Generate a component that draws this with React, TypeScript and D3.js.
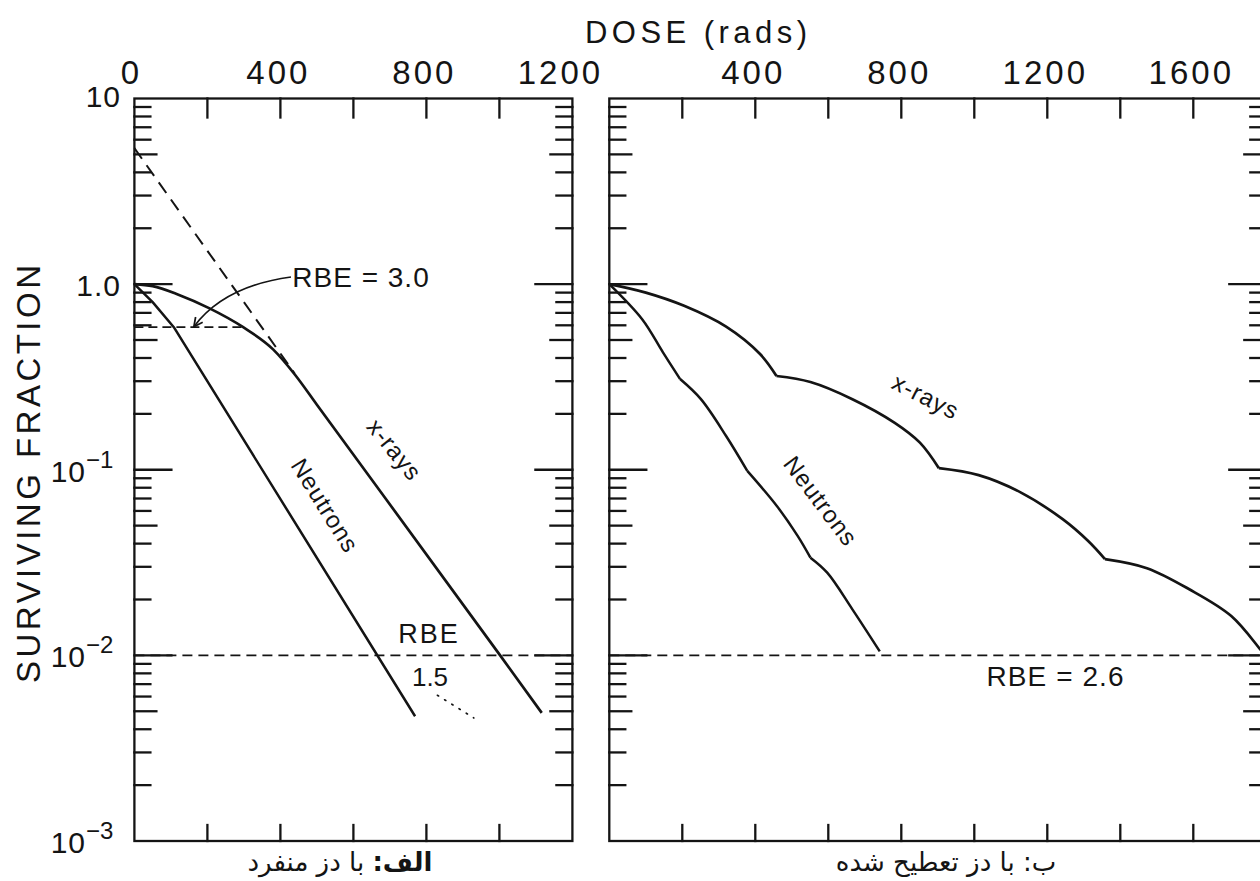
import React from "react";
import * as d3 from "d3";

type P = [number, number];

// ---------- data ----------
const leftDoseTicks = [0, 200, 400, 600, 800, 1000, 1200];
const leftDoseLabels = [0, 400, 800, 1200];
const rightDoseTicks = [0, 200, 400, 600, 800, 1000, 1200, 1400, 1600, 1800];
const rightDoseLabels = [400, 800, 1200, 1600];
const yDecadeLabels = [
  { v: 10, base: "10", sup: "" },
  { v: 1, base: "1.0", sup: "" },
  { v: 0.1, base: "10", sup: "-1" },
  { v: 0.01, base: "10", sup: "-2" },
  { v: 0.001, base: "10", sup: "-3" },
];

// Panel A: single dose
const xrayLeft: P[] = [
  [0, 1], [50, 0.975], [119, 0.88], [206, 0.74], [298, 0.586], [380, 0.445],
  [440, 0.325], [500, 0.224], [1002, 0.01], [1116, 0.0049],
];
const neutronLeft: P[] = [[0, 1], [50, 0.8], [108, 0.586], [769, 0.0047]];
const extrapolationLeft: P[] = [[0, 5.4], [439, 0.33]];
const rbe3Level: P[] = [[0, 0.586], [298, 0.586]];
const rbe15Dots: P[] = [[830, 0.0061], [930, 0.0046]];
const rbe3Leader: P[] = [[429, 1.093], [317, 1.02], [221, 0.84], [163, 0.59]];

// Panel B: fractionated dose
const xrayFractions: P[][] = [
  [[0, 1], [100, 0.9], [205, 0.764], [320, 0.59], [413, 0.42], [458, 0.32]],
  [[458, 0.32], [551, 0.297], [666, 0.24], [782, 0.179], [851, 0.14], [903, 0.102]],
  [[903, 0.102], [1012, 0.0935], [1128, 0.0753], [1243, 0.054], [1312, 0.0413], [1358, 0.033]],
  [[1358, 0.033], [1473, 0.0295], [1589, 0.0227], [1704, 0.0163], [1783, 0.0108], [1800, 0.0098]],
];
const neutronFractions: P[][] = [
  [[0, 1], [90, 0.647], [147, 0.429], [194, 0.308]],
  [[194, 0.308], [251, 0.24], [320, 0.152], [378, 0.0986]],
  [[378, 0.0986], [459, 0.0638], [516, 0.044], [551, 0.0336]],
  [[551, 0.0336], [597, 0.0279], [666, 0.0177], [741, 0.0105]],
];
const rbeLevel = 0.01;

// ---------- scales ----------
const W = 1260;
const H = 881;
const y = d3.scaleLog().domain([0.001, 10]).range([841, 98.5]);
const xL = d3.scaleLinear().domain([0, 1200]).range([134.4, 572.4]);
const xR = d3.scaleLinear().domain([0, 1800]).range([609.3, 1266.3]);

const INK = "#141414";
const FONT = "'Liberation Sans', Arial, sans-serif";

function Frame({ x, ticks }: { x: d3.ScaleLinear<number, number>; ticks: number[] }) {
  const [x0, x1] = x.range();
  const [y1, y0] = y.range();
  const yt = y.ticks();
  const tickLen = (v: number) => {
    const l = Math.log10(v);
    const m = Math.round(v / Math.pow(10, Math.floor(l + 1e-9)));
    if (Math.abs(l - Math.round(l)) < 1e-6) return 37;
    if (m === 5) return 22;
    return 16;
  };
  return (
    <g stroke={INK} strokeWidth={2.3} fill="none" strokeLinecap="square">
      <rect x={x0} y={y0} width={x1 - x0} height={y1 - y0} />
      {yt
        .filter((v) => v > 0.0011 && v < 9.9)
        .map((v, i) => (
          <g key={i}>
            <line x1={x0} x2={x0 + tickLen(v)} y1={y(v)} y2={y(v)} />
            <line x1={x1} x2={x1 - tickLen(v)} y1={y(v)} y2={y(v)} />
          </g>
        ))}
      {ticks
        .filter((t, i) => i > 0 && i < ticks.length - 1)
        .map((t) => (
          <g key={t}>
            <line x1={x(t)} x2={x(t)} y1={y0} y2={y0 + 19} />
            <line x1={x(t)} x2={x(t)} y1={y1} y2={y1 - 16} />
          </g>
        ))}
    </g>
  );
}

export default function App() {
  const monoL = d3
    .line<P>()
    .x((d) => xL(d[0]))
    .y((d) => y(d[1]))
    .curve(d3.curveMonotoneX);
  const smoothR = d3
    .line<P>()
    .x((d) => xR(d[0]))
    .y((d) => y(d[1]))
    .curve(d3.curveCatmullRom.alpha(0.5));
  const straightL = d3
    .line<P>()
    .x((d) => xL(d[0]))
    .y((d) => y(d[1]));
  const leaderL = (pts: P[]) => {
    const p = pts.map((d) => [xL(d[0]), y(d[1])]);
    return `M ${p[0][0]} ${p[0][1]} C ${p[1][0]} ${p[1][1]}, ${p[2][0]} ${p[2][1]}, ${p[3][0]} ${p[3][1]}`;
  };

  const rbeY = y(rbeLevel);

  return (
    <svg
      width={W}
      height={H}
      viewBox={`0 0 ${W} ${H}`}
      style={{ position: "absolute", left: 0, top: 0, background: "#fff" }}
      fontFamily={FONT}
    >
      <rect x={0} y={0} width={W} height={H} fill="#fff" />
      <defs>
        <marker id="arr" viewBox="0 0 10 10" refX="9" refY="5" markerWidth="11" markerHeight="11" orient="auto" markerUnits="userSpaceOnUse">
          <path d="M1,1 L9,5 L1,9" fill="none" stroke={INK} strokeWidth={1.6} />
        </marker>
      </defs>

      {/* title */}
      <text x={696} y={43} fontSize={31} fill={INK} textAnchor="middle" textLength={222} lengthAdjust="spacing">
        DOSE (rads)
      </text>

      {/* top tick labels */}
      {leftDoseLabels.map((t) => (
        <text
          key={"l" + t}
          x={t === 1200 ? xL(t) - 12 : t === 0 ? xL(t) - 3 : xL(t) - 2}
          y={84}
          fontSize={33}
          fill={INK}
          textAnchor="middle"
          letterSpacing={3}
        >
          {t}
        </text>
      ))}
      {rightDoseLabels.map((t) => (
        <text key={"r" + t} x={xR(t) - 2} y={84} fontSize={33} fill={INK} textAnchor="middle" letterSpacing={3}>
          {t}
        </text>
      ))}

      {/* y tick labels */}
      {yDecadeLabels.map((d) => (
        <text key={d.v} x={d.sup ? 86 : 121} y={y(d.v) + (d.v === 10 ? 8 : 12)} fontSize={30} fill={INK} textAnchor="end" letterSpacing={1}>
          {d.base}
        </text>
      ))}
      {yDecadeLabels
        .filter((d) => d.sup)
        .map((d) => (
          <text key={"s" + d.v} x={86} y={y(d.v) - 2} fontSize={24} fill={INK} textAnchor="start">
            {d.sup.replace("-", "\u2212")}
          </text>
        ))}

      {/* y axis title */}
      <text
        transform="translate(40,474) rotate(-90)"
        fontSize={33}
        fill={INK}
        textAnchor="middle"
        textLength={418}
        lengthAdjust="spacing"
      >
        SURVIVING FRACTION
      </text>

      {/* frames */}
      <Frame x={xL} ticks={leftDoseTicks} />
      <Frame x={xR} ticks={rightDoseTicks} />

      {/* ---------- Panel A ---------- */}
      <line x1={xL(0)} x2={xL(1200)} y1={rbeY} y2={rbeY} stroke={INK} strokeWidth={1.8} strokeDasharray="10,6" />
      <path d={straightL(extrapolationLeft) || ""} fill="none" stroke={INK} strokeWidth={2} strokeDasharray="13,8" />
      <path d={straightL(rbe3Level) || ""} fill="none" stroke={INK} strokeWidth={1.8} strokeDasharray="9,5" />
      <path d={monoL(xrayLeft) || ""} fill="none" stroke={INK} strokeWidth={2.7} />
      <path d={straightL(neutronLeft) || ""} fill="none" stroke={INK} strokeWidth={2.5} strokeLinejoin="round" />
      <path d={straightL(rbe15Dots) || ""} fill="none" stroke={INK} strokeWidth={1.6} strokeDasharray="1.5,7" strokeLinecap="round" />

      <path d={leaderL(rbe3Leader)} fill="none" stroke={INK} strokeWidth={1.6} markerEnd="url(#arr)" />
      <text x={361} y={287} fontSize={28} fill={INK} textAnchor="middle" letterSpacing={1}>
        RBE = 3.0
      </text>
      <text x={429} y={643} fontSize={27} fill={INK} textAnchor="middle" letterSpacing={2}>
        RBE
      </text>
      <text x={430} y={686} fontSize={26} fill={INK} textAnchor="middle">
        1.5
      </text>
      <text transform="translate(388,455) rotate(51)" fontSize={24} fill={INK} textAnchor="middle" letterSpacing={1}>
        x-rays
      </text>
      <text transform="translate(318,510) rotate(58)" fontSize={24} fill={INK} textAnchor="middle" letterSpacing={1}>
        Neutrons
      </text>

      {/* ---------- Panel B ---------- */}
      <line x1={xR(0)} x2={xR(1800)} y1={rbeY} y2={rbeY} stroke={INK} strokeWidth={1.8} strokeDasharray="10,6" />
      {xrayFractions.map((seg, i) => (
        <path key={"xf" + i} d={smoothR(seg) || ""} fill="none" stroke={INK} strokeWidth={2.7} />
      ))}
      {neutronFractions.map((seg, i) => (
        <path key={"nf" + i} d={smoothR(seg) || ""} fill="none" stroke={INK} strokeWidth={2.5} />
      ))}
      <text x={1055} y={686} fontSize={28} fill={INK} textAnchor="middle" textLength={137} lengthAdjust="spacing">
        RBE = 2.6
      </text>
      <text transform="translate(922,404) rotate(27)" fontSize={24} fill={INK} textAnchor="middle" letterSpacing={1}>
        x-rays
      </text>
      <text transform="translate(814,506) rotate(53)" fontSize={24} fill={INK} textAnchor="middle" letterSpacing={1}>
        Neutrons
      </text>

      {/* captions */}
      <text x={340} y={871} fontSize={26} fill={INK} textAnchor="middle" direction="rtl" fontFamily="'DejaVu Sans', sans-serif">
        <tspan fontWeight="bold">الف:</tspan> با دز منفرد
      </text>
      <text x={946} y={871} fontSize={26} fill={INK} textAnchor="middle" direction="rtl" fontFamily="'DejaVu Sans', sans-serif">
        ب: با دز تعطیح شده
      </text>
    </svg>
  );
}
